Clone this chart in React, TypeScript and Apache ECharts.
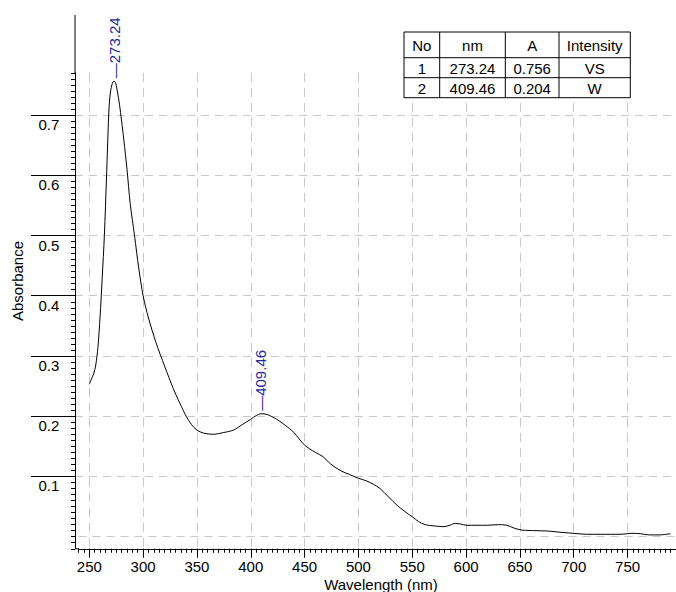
import React, { useEffect, useRef } from 'react';
import * as echarts from 'echarts';

const wavelength = [
  250, 252, 254, 256, 258, 260, 262, 264, 266, 268, 269, 270, 271, 272, 273.24, 274.5, 276, 278, 280, 282,
  285, 288, 292, 296, 300, 305, 312, 320, 328, 334, 340, 345, 350, 356, 365, 375, 384, 392, 400, 405,
  409.46, 415, 424, 432, 440, 450, 460, 467, 474, 483, 492, 500, 507, 514, 520, 528, 536, 543, 550, 556,
  562, 570, 579, 585, 590, 595, 600, 610, 620, 630, 638, 645, 652, 665, 675, 690, 700, 712, 725, 743,
  750, 755, 762, 770, 780, 790,
];
const absorbance = [
  0.253, 0.262, 0.27, 0.285, 0.314, 0.365, 0.43, 0.5, 0.597, 0.7, 0.728, 0.742, 0.75, 0.755, 0.756, 0.753, 0.74, 0.718, 0.69, 0.66,
  0.61, 0.553, 0.5, 0.445, 0.4, 0.363, 0.322, 0.283, 0.246, 0.222, 0.2, 0.186, 0.177, 0.172, 0.17, 0.173, 0.177, 0.186, 0.195, 0.201,
  0.204, 0.203, 0.195, 0.185, 0.173, 0.152, 0.14, 0.133, 0.121, 0.11, 0.103, 0.097, 0.093, 0.087, 0.08, 0.066, 0.052, 0.042, 0.033, 0.025,
  0.02, 0.018, 0.0166, 0.019, 0.022, 0.021, 0.019, 0.019, 0.019, 0.02, 0.019, 0.014, 0.011, 0.01, 0.0095, 0.007, 0.0056, 0.004, 0.004, 0.004,
  0.005, 0.0056, 0.005, 0.003, 0.003, 0.005,
];
const peakNm = [273.24, 409.46];
const peakA = [0.756, 0.204];
const tableHeader = ['No', 'nm', 'A', 'Intensity'];
const tableRows = [
  ['1', '273.24', '0.756', 'VS'],
  ['2', '409.46', '0.204', 'W'],
];
const xTitle = 'Wavelength (nm)';
const yTitle = 'Absorbance';

const FONT = '"Liberation Sans", Arial, sans-serif';
const GRID_COLOR = '#c8c8c8';
const PEAK_COLOR = '#1f2a96';

export default function App() {
  const ref = useRef<HTMLDivElement>(null);

  useEffect(() => {
    if (!ref.current) return;
    const chart = echarts.init(ref.current, null, { renderer: 'svg' });

    const colX = [404, 439.7, 505.3, 559, 630.3];
    const rowY = [32, 57.7, 77.7, 97.7];
    const TZ = 100;
    const tableChildren: any[] = [
      {
        type: 'rect',
        z: TZ,
        shape: { x: colX[0], y: rowY[0], width: colX[4] - colX[0], height: rowY[3] - rowY[0] },
        style: { fill: '#fff', stroke: '#000', lineWidth: 1 },
      },
    ];
    for (let i = 1; i < colX.length - 1; i++) {
      tableChildren.push({
        type: 'line',
        z: TZ + 1,
        shape: { x1: colX[i], y1: rowY[0], x2: colX[i], y2: rowY[3] },
        style: { stroke: '#000', lineWidth: 1 },
      });
    }
    for (let j = 1; j < rowY.length - 1; j++) {
      tableChildren.push({
        type: 'line',
        z: TZ + 1,
        shape: { x1: colX[0], y1: rowY[j], x2: colX[4], y2: rowY[j] },
        style: { stroke: '#000', lineWidth: 1 },
      });
    }
    const allRows = [tableHeader, ...tableRows];
    allRows.forEach((row, r) => {
      row.forEach((cell, c) => {
        tableChildren.push({
          type: 'text',
          z: TZ + 2,
          x: (colX[c] + colX[c + 1]) / 2,
          y: (rowY[r] + rowY[r + 1]) / 2 + 0.5,
          style: {
            text: cell,
            fill: '#000',
            font: `15px ${FONT}`,
            textAlign: 'center',
            textVerticalAlign: 'middle',
          },
        });
      });
    });

    const dashed = { color: GRID_COLOR, type: [8, 6] as any, width: 1 };

    chart.setOption({
      animation: false,
      backgroundColor: '#fff',
      textStyle: { fontFamily: FONT },
      grid: [
        { left: 78.535, right: 0, top: 72.85, bottom: 43.25 },
        { left: 75, right: 0, top: 115.02, bottom: 115.54 },
        { left: 89.3, right: 48.45, top: 72.85, bottom: 43.25 },
      ],
      xAxis: [
        {
          type: 'value', gridIndex: 0, min: 240, max: 795, interval: 5,
          axisLine: { show: true, onZero: false, lineStyle: { color: '#000', width: 1 } },
          axisTick: { show: true, length: 4, lineStyle: { color: '#000' } },
          axisLabel: { show: false },
          splitLine: { show: false },
        },
        { type: 'value', gridIndex: 1, min: 0, max: 1, show: false },
        {
          type: 'value', gridIndex: 2, min: 250, max: 750, interval: 50,
          axisLine: { show: false, onZero: false },
          axisTick: { show: true, length: 9, lineStyle: { color: '#000' } },
          axisLabel: { show: true, fontSize: 15, color: '#000', margin: 10.5, fontFamily: FONT },
          splitLine: { show: true, showMinLine: true, showMaxLine: true, lineStyle: { ...dashed, type: [9, 6] } },
        },
      ],
      yAxis: [
        {
          type: 'value', gridIndex: 0, min: -0.02, max: 0.77, interval: 0.01, offset: 3.535,
          axisLine: { show: true, onZero: false, lineStyle: { color: '#000', width: 1 } },
          axisTick: { show: true, length: 4, lineStyle: { color: '#000' } },
          axisLabel: { show: false },
          splitLine: { show: false },
        },
        {
          type: 'value', gridIndex: 1, min: 0.1, max: 0.7, interval: 0.1,
          axisLine: { show: false, onZero: false },
          axisTick: { show: true, length: 44, lineStyle: { color: '#000' } },
          axisLabel: {
            show: true, fontSize: 15, color: '#000', fontFamily: FONT,
            align: 'right', verticalAlign: 'top', margin: 15.7, padding: [2, 0, 0, 0],
            formatter: (v: number) => v.toFixed(1),
          },
          splitLine: { show: true, showMinLine: true, showMaxLine: true, lineStyle: dashed },
        },
        { type: 'value', gridIndex: 2, min: 0, max: 1, show: false },
      ],
      series: [
        {
          type: 'line',
          xAxisIndex: 0,
          yAxisIndex: 0,
          data: wavelength.map((w, i) => [w, absorbance[i]]),
          showSymbol: false,
          symbol: 'none',
          smooth: 0.3,
          lineStyle: { color: '#000', width: 1 },
          markLine: {
            silent: true,
            symbol: ['none', 'none'],
            label: { show: false },
            lineStyle: dashed,
            data: [{ yAxis: 0 }],
          },
          z: 3,
        },
        {
          type: 'scatter',
          xAxisIndex: 0,
          yAxisIndex: 0,
          data: peakNm.map((w, i) => [w, peakA[i]]),
          symbolSize: 0,
          itemStyle: { opacity: 1, color: PEAK_COLOR },
          label: {
            show: true,
            position: 'top',
            distance: 3,
            rotate: 90,
            align: 'left',
            verticalAlign: 'middle',
            color: PEAK_COLOR,
            opacity: 1,
            fontSize: 15,
            fontFamily: FONT,
            formatter: (p: any) => '\u2014' + Number(p.value[0]).toFixed(2),
          },
          z: 4,
        },
      ],
      graphic: [
        {
          type: 'line',
          shape: { x1: 75, y1: 15, x2: 75, y2: 73 },
          style: { stroke: '#000', lineWidth: 1 },
        },
        {
          type: 'line',
          shape: { x1: 75, y1: 548.75, x2: 79, y2: 548.75 },
          style: { stroke: '#000', lineWidth: 1 },
        },
        {
          type: 'text',
          x: 17,
          y: 281,
          rotation: Math.PI / 2,
          style: {
            text: yTitle,
            fill: '#000',
            font: `15px ${FONT}`,
            textAlign: 'center',
            textVerticalAlign: 'middle',
          },
        },
        {
          type: 'text',
          x: 381,
          y: 584,
          style: {
            text: xTitle,
            fill: '#000',
            font: `15px ${FONT}`,
            textAlign: 'center',
            textVerticalAlign: 'middle',
          },
        },
        ...tableChildren,
      ],
    });

    return () => chart.dispose();
  }, []);

  return (
    <div
      ref={ref}
      style={{ position: 'fixed', left: 0, top: 0, width: 676, height: 592 }}
    />
  );
}
